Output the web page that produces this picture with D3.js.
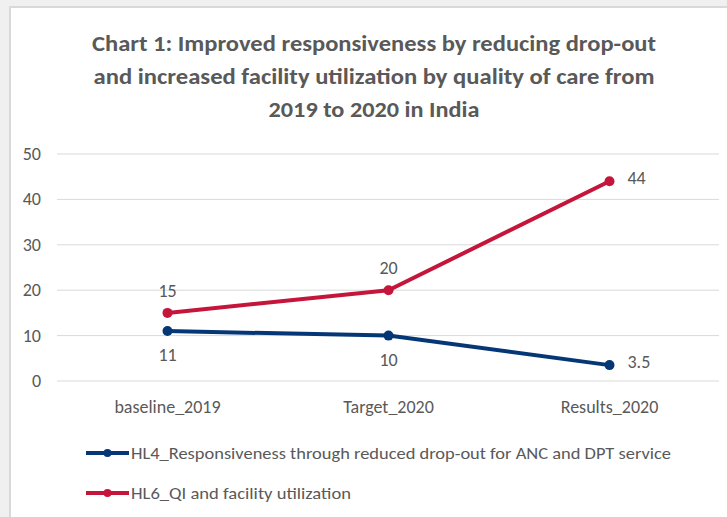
<!DOCTYPE html>
<html>
<head>
<meta charset="utf-8">
<script src="https://cdn.jsdelivr.net/npm/d3@7"></script>
<style>
  body { margin: 0; background: #f0f0f0; }
  text { font-family: Carlito, Calibri, "Open Sans", sans-serif; fill: #595959; }
</style>
</head>
<body>
<script>
"use strict";

let width = 727;
let height = 517;

// data
let categories = ["baseline_2019", "Target_2020", "Results_2020"];
let hl4Values = [11, 10, 3.5];
let hl6Values = [15, 20, 44];
let hl4LabelPos = ["below", "below", "right"];
let hl6LabelPos = ["above", "above", "right"];
let yTicks = [0, 10, 20, 30, 40, 50];
let titleLines = [
  "Chart 1: Improved responsiveness by reducing drop-out",
  "and increased facility utilization by quality of care from",
  "2019 to 2020 in India"
];
let seriesNames = [
  "HL4_Responsiveness through reduced drop-out for ANC and DPT service",
  "HL6_QI and facility utilization"
];

let series = [
  { name: seriesNames[0], values: hl4Values, labels: hl4LabelPos, color: "#053777" },
  { name: seriesNames[1], values: hl6Values, labels: hl6LabelPos, color: "#c5153b" }
];

let svg = d3.select("body").append("svg").attr("width", width).attr("height", height);

// chart area
svg.append("rect")
  .attr("x", 10).attr("y", 7)
  .attr("width", width).attr("height", height)
  .attr("fill", "#fff")
  .attr("stroke", "#d9d9d9")
  .attr("stroke-width", 2);

// title
let titleLengths = [564, 561, 211];
svg.append("g").selectAll("text")
  .data(titleLines)
  .enter()
  .append("text")
  .attr("x", 374)
  .attr("y", (d, i) => 51 + i * 33)
  .attr("text-anchor", "middle")
  .attr("textLength", (d, i) => titleLengths[i])
  .attr("lengthAdjust", "spacingAndGlyphs")
  .style("font-size", "22px")
  .style("font-weight", "bold")
  .text(d => d);

let x = d3.scaleBand()
  .domain(categories)
  .range([57, 720]);

let y = d3.scaleLinear()
  .domain([0, 50])
  .range([381, 154]);

let cx = d => x(d) + x.bandwidth() / 2;

// gridlines + y labels
let grid = svg.append("g");
grid.selectAll("line")
  .data(yTicks)
  .enter()
  .append("line")
  .attr("x1", 57).attr("x2", 719)
  .attr("y1", d => y(d)).attr("y2", d => y(d))
  .attr("stroke", "#d9d9d9")
  .attr("stroke-width", 1);

grid.selectAll("text")
  .data(yTicks)
  .enter()
  .append("text")
  .attr("x", 41)
  .attr("y", d => y(d) + 6)
  .attr("text-anchor", "end")
  .style("font-size", "18px")
  .text(d => d);

// category labels
svg.append("g").selectAll("text")
  .data(categories)
  .enter()
  .append("text")
  .attr("x", d => cx(d))
  .attr("y", 413)
  .attr("text-anchor", "middle")
  .style("font-size", "18px")
  .text(d => d);

let line = d3.line()
  .x((d, i) => cx(categories[i]))
  .y(d => y(d));

series.forEach(function (s) {
  let g = svg.append("g");
  g.append("path")
    .attr("d", line(s.values))
    .attr("fill", "none")
    .attr("stroke", s.color)
    .attr("stroke-width", 4)
    .attr("stroke-linejoin", "round");

  g.selectAll("circle")
    .data(s.values)
    .enter()
    .append("circle")
    .attr("cx", (d, i) => cx(categories[i]))
    .attr("cy", d => y(d))
    .attr("r", 5)
    .attr("fill", s.color);

  g.selectAll("text")
    .data(s.values)
    .enter()
    .append("text")
    .attr("x", (d, i) => s.labels[i] == "right" ? cx(categories[i]) + 18 : cx(categories[i]))
    .attr("y", function (d, i) {
      if (s.labels[i] == "above") return y(d) - 16;
      if (s.labels[i] == "below") return y(d) + 30;
      return y(d) + 3;
    })
    .attr("text-anchor", (d, i) => s.labels[i] == "right" ? "start" : "middle")
    .style("font-size", "18px")
    .text(d => d);
});

// legend
let legend = svg.append("g");
let legendLengths = [540, 220];
series.forEach(function (s, i) {
  let ly = 453 + i * 40;
  legend.append("line")
    .attr("x1", 86).attr("x2", 129)
    .attr("y1", ly).attr("y2", ly)
    .attr("stroke", s.color)
    .attr("stroke-width", 4);
  legend.append("circle")
    .attr("cx", 107.5).attr("cy", ly)
    .attr("r", 4)
    .attr("fill", s.color);
  legend.append("text")
    .attr("x", 131)
    .attr("y", ly + 6)
    .attr("textLength", legendLengths[i])
    .attr("lengthAdjust", "spacingAndGlyphs")
    .style("font-size", "17px")
    .text(s.name);
});
</script>
</body>
</html>
